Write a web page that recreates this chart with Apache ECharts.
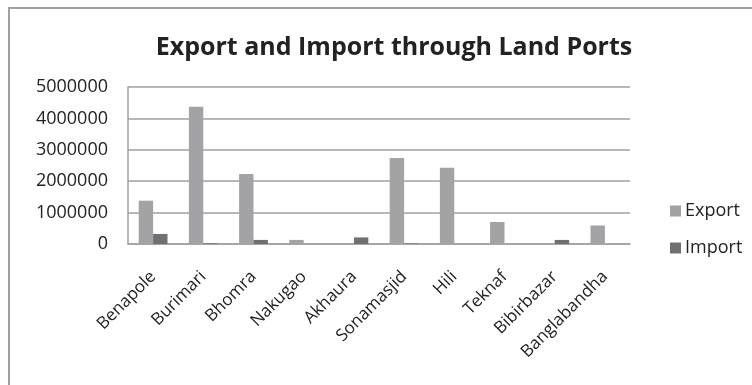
<!DOCTYPE html>
<html>
<head>
<meta charset="utf-8">
<script src="https://cdn.jsdelivr.net/npm/echarts@6/dist/echarts.min.js"></script>
<style>
html,body{margin:0;padding:0;background:#fff;}
#chart{width:752px;height:385px;}
</style>
</head>
<body>
<div id="chart"></div>
<script>
const categories = ['Benapole','Burimari','Bhomra','Nakugao','Akhaura','Sonamasjid','Hili','Teknaf','Bibirbazar','Banglabandha'];
const exportValues = [1380000, 4370000, 2230000, 130000, 0, 2740000, 2430000, 700000, 0, 590000];
const importValues = [320000, 20000, 130000, 0, 210000, 15000, 0, 0, 130000, 0];
const yTicks = [0, 1000000, 2000000, 3000000, 4000000, 5000000];

const chart = echarts.init(document.getElementById('chart'), null, {renderer: 'canvas'});
const fontFam = '"Open Sans", "DejaVu Sans", sans-serif';
chart.setOption({
  backgroundColor: '#ffffff',
  animation: false,
  graphic: [{
    type: 'rect',
    shape: {x: 9, y: 8, width: 800, height: 420},
    style: {fill: 'none', stroke: '#a0a0a0', lineWidth: 2},
    silent: true
  }],
  title: {
    text: 'Export and Import through Land Ports',
    left: 389, textAlign: 'center', top: 30,
    textStyle: {fontFamily: fontFam, fontSize: 25, fontWeight: 'bold', color: '#222'}
  },
  legend: {
    orient: 'vertical', left: 665, top: 197,
    itemWidth: 11, itemHeight: 11, itemGap: 19,
    icon: 'rect',
    textStyle: {fontFamily: fontFam, fontSize: 18, color: '#222', padding: [0,0,0,-1]},
    data: ['Export', 'Import']
  },
  grid: {left: 128, right: 122, top: 87, bottom: 141},
  xAxis: {
    type: 'category', data: categories,
    axisLine: {show: true, lineStyle: {color: '#a0a0a0', width: 1.5}},
    axisTick: {show: false},
    axisLabel: {interval: 0, rotate: 45, fontFamily: fontFam, fontSize: 17, color: '#222', margin: 30}
  },
  yAxis: {
    type: 'value', min: yTicks[0], max: yTicks[yTicks.length-1], interval: yTicks[1]-yTicks[0],
    axisLine: {show: true, lineStyle: {color: '#a0a0a0', width: 1.5}},
    axisTick: {show: false},
    splitLine: {show: true, lineStyle: {color: '#a0a0a0', width: 1.5}},
    axisLabel: {fontFamily: fontFam, fontSize: 18, color: '#222', margin: 20,
                formatter: function (v) { return String(v); }}
  },
  series: [
    {name: 'Export', type: 'bar', data: exportValues, barWidth: '28.7%', barGap: '0%',
     itemStyle: {color: '#a3a3a6'}},
    {name: 'Import', type: 'bar', data: importValues, barWidth: '28.7%', barGap: '0%',
     itemStyle: {color: '#707073'}}
  ]
});
</script>
</body>
</html>
